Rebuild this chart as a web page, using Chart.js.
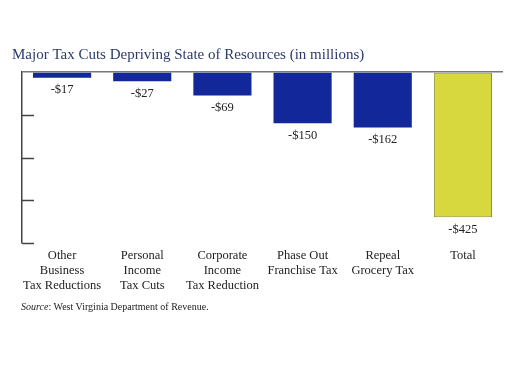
<!DOCTYPE html>
<html>
<head>
<meta charset="utf-8">
<script src="https://cdn.jsdelivr.net/npm/chart.js@4.4.1/dist/chart.umd.min.js"></script>
<style>
  html, body { margin: 0; padding: 0; background: #fff; }
  #wrap { position: relative; width: 525px; height: 389px; }
  #source { position: absolute; left: 21px; top: 301px; font: 10px "Liberation Serif", serif; color: #222; white-space: nowrap; }
</style>
</head>
<body>
<div id="wrap">
  <canvas id="c" width="525" height="389"></canvas>
  <div id="source"><i>Source</i>: West Virginia Department of Revenue.</div>
</div>
<script>
const categories = [
  ["Other", "Business", "Tax Reductions"],
  ["Personal", "Income", "Tax Cuts"],
  ["Corporate", "Income", "Tax Reduction"],
  ["Phase Out", "Franchise Tax"],
  ["Repeal", "Grocery Tax"],
  ["Total"]
];
const values = [-17, -27, -69, -150, -162, -425];
const yTicks = [0, -125, -250, -375, -500];
const titleText = "Major Tax Cuts Depriving State of Resources (in millions)";

const BLUE = "#12279a";
const YELLOW = "#d6d83e";

const valueLabels = {
  id: "valueLabels",
  afterDatasetsDraw(chart) {
    const ctx = chart.ctx;
    const meta = chart.getDatasetMeta(0);
    ctx.save();
    ctx.font = '12.5px "Liberation Serif", serif';
    ctx.fillStyle = "#222";
    ctx.textAlign = "center";
    ctx.textBaseline = "middle";
    meta.data.forEach((bar, i) => {
      const v = values[i];
      const txt = (v < 0 ? "-$" : "$") + Math.abs(v);
      ctx.fillText(txt, bar.x, bar.y + 12);
    });
    ctx.restore();
  }
};

const innerTicks = {
  id: "innerTicks",
  afterDraw(chart) {
    const ys = chart.scales.y;
    const ctx = chart.ctx;
    ctx.save();
    ctx.strokeStyle = "#444";
    ctx.lineWidth = 1.5;
    yTicks.forEach(v => {
      if (v === 0) return;
      const py = Math.round(ys.getPixelForValue(v)) + 0.5;
      ctx.beginPath();
      ctx.moveTo(ys.right, py);
      ctx.lineTo(ys.right + 12, py);
      ctx.stroke();
    });
    ctx.restore();
  }
};

new Chart(document.getElementById("c"), {
  type: "bar",
  data: {
    labels: categories,
    datasets: [{
      data: values,
      backgroundColor: values.map((v, i) => i === values.length - 1 ? YELLOW : BLUE),
      borderColor: values.map((v, i) => i === values.length - 1 ? "#8e8e3c" : BLUE),
      borderWidth: values.map((v, i) => i === values.length - 1 ? 1 : 0),
      borderSkipped: false,
      barPercentage: 0.725,
      categoryPercentage: 1.0
    }]
  },
  options: {
    responsive: false,
    animation: false,
    layout: { padding: { left: 12, right: 22, top: 0, bottom: 0 } },
    plugins: {
      legend: { display: false },
      tooltip: { enabled: false },
      title: {
        display: true,
        text: titleText,
        align: "start",
        color: "#2c3a6c",
        font: { family: '"Liberation Serif", serif', size: 15, weight: "normal" },
        padding: { top: 46, bottom: 8 }
      }
    },
    scales: {
      x: {
        grid: { display: false, drawTicks: false },
        border: { display: false },
        ticks: {
          color: "#222",
          padding: 5,
          maxRotation: 0,
          autoSkip: false,
          font: { family: '"Liberation Serif", serif', size: 12.5, lineHeight: 1.2 }
        },
        afterFit: s => { s.height = 146; }
      },
      y: {
        min: -500,
        max: 0,
        afterBuildTicks: s => { s.ticks = yTicks.map(v => ({ value: v })); },
        ticks: { display: false },
        grid: {
          drawTicks: false,
          color: c => (c.tick && c.tick.value === 0) ? "#777" : "rgba(0,0,0,0)",
          lineWidth: 1.5
        },
        border: { display: true, color: "#444", width: 1.5 },
        afterFit: s => { s.width = 10; }
      }
    }
  },
  plugins: [valueLabels, innerTicks]
});
</script>
</body>
</html>
